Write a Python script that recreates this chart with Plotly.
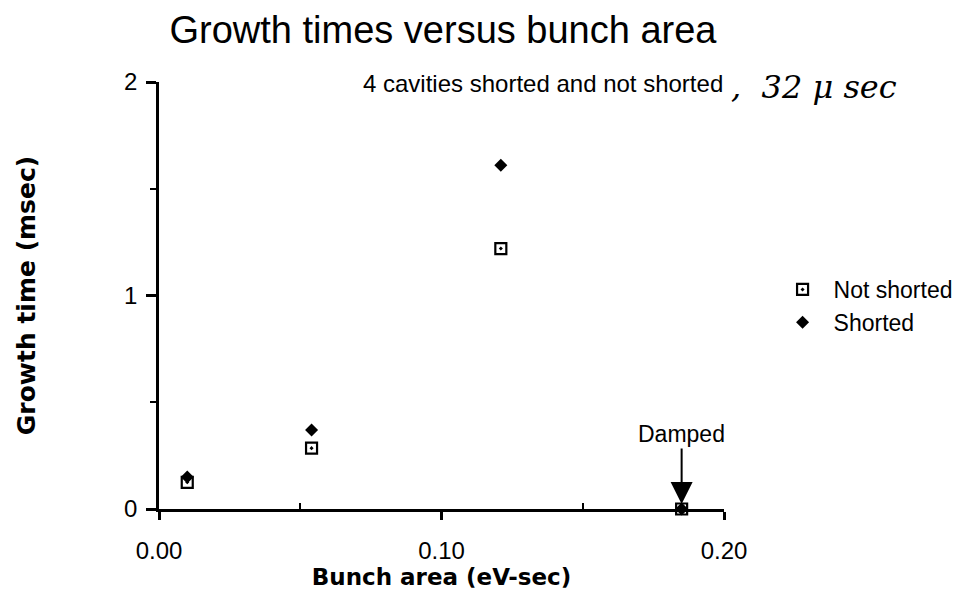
import plotly.graph_objects as go

# values
bunch_area = [0.010, 0.054, 0.121, 0.185]
not_shorted = [0.125, 0.285, 1.22, 0.0]
shorted = [0.15, 0.37, 1.61, 0.0]

x_ticks = [0.0, 0.1, 0.2]
x_labels = ["0.00", "0.10", "0.20"]
y_ticks = [0, 1, 2]

TEXT_FONT = "Liberation Sans, Arial, sans-serif"
BOLD_FONT = "DejaVu Sans, Verdana, sans-serif"

# the page body adds an 8px margin, so the figure is drawn 8px in and 8px smaller
OFF = 8
W, H = 970 - OFF, 598 - OFF
# plot area in page pixels: x 159..741, y 82..509
L, R, T, B = 159 - OFF, 229, 82 - OFF, 89
PW, PH = W - L - R, H - T - B


def px_x(p):
    return (p - OFF - L) / PW


def px_y(p):
    return (H - B - (p - OFF)) / PH


fig = go.Figure()

fig.add_trace(go.Scatter(
    x=bunch_area, y=not_shorted, mode="markers", name="Not shorted",
    cliponaxis=False,
    marker=dict(symbol="square-open-dot", size=11, color="black",
                line=dict(width=2.2, color="black")),
))
fig.add_trace(go.Scatter(
    x=bunch_area, y=shorted, mode="markers", name="Shorted",
    cliponaxis=False,
    marker=dict(symbol="diamond", size=10, color="black"),
))

# "Damped" label with arrow pointing at the last point
fig.add_annotation(
    x=bunch_area[-1], y=0, xref="x", yref="y",
    text="Damped", showarrow=True, arrowhead=2, arrowsize=2.2,
    arrowwidth=2, arrowcolor="black", ax=0, ay=-75, standoff=5,
    font=dict(family=TEXT_FONT, size=23, color="black"),
)

fig.add_annotation(
    x=px_x(555), y=px_y(83), xref="paper", yref="paper",
    xanchor="center", yanchor="middle",
    text="4 cavities shorted and not shorted", showarrow=False,
    font=dict(family=TEXT_FONT, size=24, color="black"),
)

# handwritten addition next to the subtitle
fig.add_annotation(
    x=px_x(746), y=px_y(87), xref="paper", yref="paper",
    xanchor="left", yanchor="middle",
    text=",  32 μ sec", showarrow=False,
    font=dict(family="DejaVu Serif, serif", size=32, color="black", style="italic"),
)

fig.update_layout(
    width=W, height=H,
    margin=dict(l=L, r=R, t=T, b=B),
    paper_bgcolor="white", plot_bgcolor="white",
    title=dict(text="Growth times versus bunch area", x=(443 - OFF) / W, xanchor="center",
               y=1 - 22 / H, yanchor="middle",
               font=dict(family=TEXT_FONT, size=38, color="black")),
    legend=dict(x=px_x(790), y=px_y(268), xanchor="left", yanchor="top",
                font=dict(family=TEXT_FONT, size=23, color="black"),
                itemwidth=52, bgcolor="rgba(0,0,0,0)"),
    xaxis=dict(
        range=[0, 0.2], tickvals=x_ticks, ticktext=x_labels, automargin=False,
        showgrid=False, zeroline=False, showline=True, linecolor="black", linewidth=2.5,
        ticks="outside", ticklen=8, tickwidth=2.5, tickcolor="black",
        minor=dict(tickvals=[0.05, 0.15], ticks="inside", ticklen=6, tickwidth=2, tickcolor="black"),
        tickfont=dict(family=TEXT_FONT, size=24, color="black"),
        ticklabelstandoff=10,
        title=dict(text="<b>Bunch area (eV-sec)</b>", standoff=6,
                   font=dict(family=BOLD_FONT, size=23, color="black")),
    ),
    yaxis=dict(
        range=[0, 2], tickvals=y_ticks, automargin=False,
        showgrid=False, zeroline=False, showline=True, linecolor="black", linewidth=2.5,
        ticks="outside", ticklen=10, tickwidth=2.5, tickcolor="black",
        minor=dict(tickvals=[0.5, 1.5], ticks="outside", ticklen=6, tickwidth=2, tickcolor="black"),
        tickfont=dict(family=TEXT_FONT, size=24, color="black"),
        ticklabelstandoff=4,
        title=dict(text="<b>Growth time (msec)</b>", standoff=82,
                   font=dict(family=BOLD_FONT, size=25, color="black")),
    ),
)

fig.write_html("out.html")
